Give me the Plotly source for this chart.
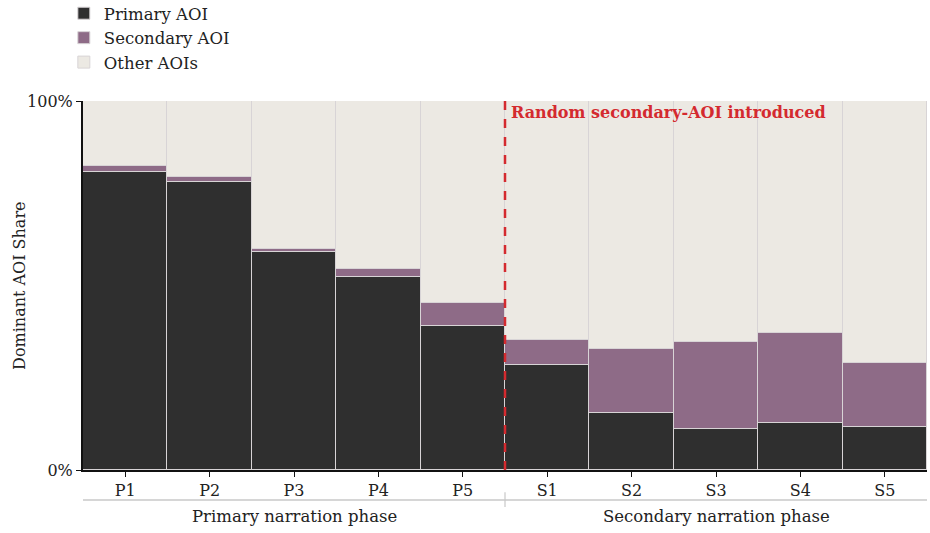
import plotly.graph_objects as go

categories = ["P1", "P2", "P3", "P4", "P5", "S1", "S2", "S3", "S4", "S5"]
primary = [0.808, 0.780, 0.590, 0.522, 0.391, 0.285, 0.154, 0.111, 0.128, 0.116]
secondary = [0.016, 0.015, 0.008, 0.023, 0.061, 0.067, 0.173, 0.236, 0.242, 0.173]
other = [round(1 - p - s, 3) for p, s in zip(primary, secondary)]
phases = ["Primary narration phase", "Secondary narration phase"]
annotation_text = "Random secondary-AOI introduced"
y_title = "Dominant AOI Share"

FONT = "DejaVu Serif"
C_PRIMARY = "#2f2f2f"
C_SECOND = "#8e6b87"
C_OTHER = "#ece9e3"
C_RED = "#d42a2f"

x = list(range(len(categories)))

fig = go.Figure()
for name, vals, col in [("Primary AOI", primary, C_PRIMARY),
                        ("Secondary AOI", secondary, C_SECOND),
                        ("Other AOIs", other, C_OTHER)]:
    fig.add_trace(go.Bar(
        x=x, y=vals, name=name, marker=dict(color=col, line=dict(color="#d8d4d6", width=1)),
        hoverinfo="skip"))

n_primary = sum(1 for c in categories if c.startswith("P"))
split = n_primary - 0.5

fig.add_shape(type="line", xref="x", yref="y", x0=split, x1=split, y0=0, y1=1,
              line=dict(color=C_RED, width=2.5, dash="dash"))
fig.add_annotation(x=split, y=1, xref="x", yref="y", text="<b>" + annotation_text + "</b>",
                   showarrow=False, xanchor="left", yanchor="top", xshift=4, yshift=0,
                   font=dict(family=FONT, size=16, color=C_RED))

# phase bracket
fig.add_shape(type="line", xref="x", yref="paper", x0=-0.5, x1=len(categories) - 0.5,
              y0=-0.081, y1=-0.081, line=dict(color="#c8c8c8", width=1.5))
fig.add_shape(type="line", xref="x", yref="paper", x0=split, x1=split,
              y0=-0.060, y1=-0.100, line=dict(color="#c8c8c8", width=1.2))
fig.add_annotation(x=(n_primary - 1) / 2, y=-0.127, xref="x", yref="paper", text=phases[0],
                   showarrow=False, yanchor="middle",
                   font=dict(family=FONT, size=16.5, color="#222"))
fig.add_annotation(x=n_primary + (len(categories) - n_primary - 1) / 2, y=-0.127, xref="x",
                   yref="paper", text=phases[1], showarrow=False, yanchor="middle",
                   font=dict(family=FONT, size=16.5, color="#222"))
# y-axis title
fig.add_annotation(x=-0.089, y=0.5, xref="paper", yref="paper", text=y_title, textangle=-90,
                   showarrow=False, font=dict(family=FONT, size=16, color="#222"))

fig.update_layout(
    width=930, height=533,
    barmode="stack", bargap=0,
    plot_bgcolor="white", paper_bgcolor="white",
    margin=dict(l=83, r=3, t=101, b=63, autoexpand=False),
    font=dict(family=FONT, size=16, color="#222"),
    showlegend=True,
    legend=dict(traceorder="normal", orientation="v", xref="paper", yref="paper",
                x=-0.0227, y=1.2846, xanchor="left", yanchor="top",
                font=dict(family=FONT, size=16.5), itemclick=False,
                tracegroupgap=0, bgcolor="rgba(0,0,0,0)"),
    xaxis=dict(tickmode="array", tickvals=x, ticktext=categories, range=[-0.5, len(categories) - 0.5],
               showline=True, linecolor="#111", linewidth=2, ticks="outside", ticklen=5,
               tickcolor="#111", showgrid=False, zeroline=False,
               tickfont=dict(family=FONT, size=16, color="#222")),
    yaxis=dict(range=[0, 1], tickvals=[0, 1], ticktext=["0%", "100%"], showline=True,
               linecolor="#111", linewidth=2, ticks="outside", ticklen=5, tickcolor="#111",
               showgrid=False, zeroline=False,
               tickfont=dict(family=FONT, size=16, color="#222")),
)

fig.write_html("out.html", config={"displayModeBar": False},
               post_script="document.body.style.margin='0';")
